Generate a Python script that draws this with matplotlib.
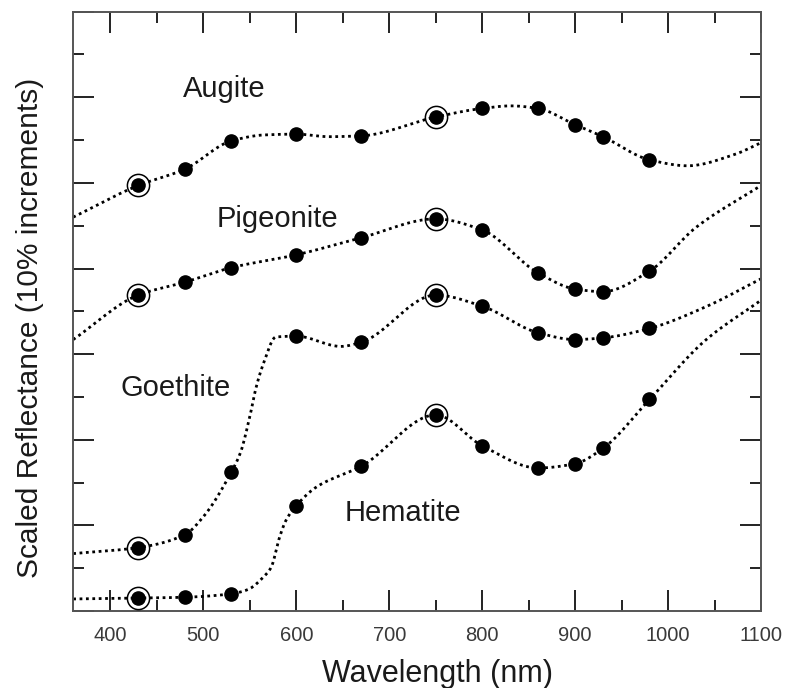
import numpy as np
import matplotlib.pyplot as plt
from matplotlib.ticker import MultipleLocator

plt.rcParams['font.family'] = ['Liberation Sans', 'DejaVu Sans']

# filter band centres (nm) and the sampled reflectance (scaled, %)
band_wl = [430, 480, 530, 600, 670, 750, 800, 860, 900, 930, 980]
augite_bands = [49.7, 51.6, 54.9, 55.7, 55.5, 57.7, 58.7, 58.7, 56.8, 55.4, 52.7]
pigeonite_bands = [36.9, 38.4, 40.1, 41.6, 43.6, 45.8, 44.5, 39.5, 37.6, 37.3, 39.7]
goethite_bands = [7.4, 8.9, 16.2, 32.1, 31.4, 36.9, 35.6, 32.5, 31.7, 31.9, 33.0]
hematite_bands = [1.5, 1.6, 2.0, 12.3, 16.9, 22.9, 19.3, 16.7, 17.2, 19.0, 24.7]

# lab spectra
augite_wl = [360, 430, 480, 530, 565, 600, 635, 670, 750, 800, 831, 860, 900, 930, 980, 1021, 1071, 1100]
augite_refl = [46.0, 49.7, 51.6, 54.9, 55.6, 55.7, 55.4, 55.5, 57.7, 58.7, 59.0, 58.7, 56.8, 55.4, 52.7, 52.0, 53.3, 54.7]

pigeonite_wl = [360, 430, 480, 530, 600, 670, 750, 800, 860, 900, 930, 980, 1030, 1100]
pigeonite_refl = [31.7, 36.9, 38.4, 40.1, 41.6, 43.6, 45.8, 44.5, 39.5, 37.6, 37.3, 39.7, 44.8, 49.7]

goethite_wl = [360, 430, 480, 500, 530, 540, 550, 557, 565, 578, 600, 648, 670, 750, 800, 860, 900, 930, 980, 1040, 1100]
goethite_refl = [6.7, 7.4, 8.9, 11.0, 16.2, 18.5, 22.7, 26.2, 29.0, 32.0, 32.1, 30.9, 31.4, 36.9, 35.6, 32.5, 31.7, 31.9, 33.0, 35.5, 38.8]

hematite_wl = [360, 430, 480, 530, 548, 565, 573, 582, 589, 600, 622, 670, 750, 800, 860, 900, 930, 980, 1040, 1100]
hematite_refl = [1.4, 1.5, 1.6, 2.0, 2.5, 4.0, 5.1, 8.6, 10.6, 12.3, 14.5, 16.9, 22.9, 19.3, 16.7, 17.2, 19.0, 24.7, 31.6, 36.3]

circled_wl = [430, 750]


def pchip(x, y, xs):
    # shape-preserving cubic through the read points, only for a smooth dotted line
    x = np.asarray(x, float)
    y = np.asarray(y, float)
    h = np.diff(x)
    d = np.diff(y) / h
    m = np.zeros_like(y)
    for k in range(1, len(x) - 1):
        if d[k - 1] * d[k] > 0:
            w1 = 2 * h[k] + h[k - 1]
            w2 = h[k] + 2 * h[k - 1]
            m[k] = (w1 + w2) / (w1 / d[k - 1] + w2 / d[k])
    m[0], m[-1] = d[0], d[-1]
    i = np.clip(np.searchsorted(x, xs) - 1, 0, len(h) - 1)
    t = (xs - x[i]) / h[i]
    return ((2 * t**3 - 3 * t**2 + 1) * y[i] + (t**3 - 2 * t**2 + t) * h[i] * m[i]
            + (-2 * t**3 + 3 * t**2) * y[i + 1] + (t**3 - t**2) * h[i] * m[i + 1])


fig = plt.figure(figsize=(7.87, 6.88), dpi=100)
ax = fig.add_axes([0.093, 0.112, 0.874, 0.871])

spectra = [(augite_wl, augite_refl, augite_bands),
           (pigeonite_wl, pigeonite_refl, pigeonite_bands),
           (goethite_wl, goethite_refl, goethite_bands),
           (hematite_wl, hematite_refl, hematite_bands)]

for wl, refl, bands in spectra:
    xs = np.linspace(wl[0], wl[-1], 600)
    ax.plot(xs, pchip(wl, refl, xs), color='black', lw=2.0,
            linestyle=(0, (1, 1.3)), zorder=2)
    ax.plot(band_wl, bands, 'o', color='black', ms=9.5, zorder=3)
    circ = [b for w, b in zip(band_wl, bands) if w in circled_wl]
    ax.plot(circled_wl, circ, 'o', mfc='none', mec='black', ms=16, mew=1.1, zorder=3)

label_kw = dict(fontsize=21, color='#1a1a1a', ha='left', va='baseline')
ax.text(478, 60.0, 'Augite', **label_kw)
ax.text(514, 44.8, 'Pigeonite', **label_kw)
ax.text(411, 25.1, 'Goethite', **label_kw)
ax.text(652, 10.5, 'Hematite', **label_kw)

ax.set_xlim(360, 1100)
ax.set_ylim(0, 70)
ax.xaxis.set_major_locator(MultipleLocator(100))
ax.xaxis.set_minor_locator(MultipleLocator(50))
ax.yaxis.set_major_locator(MultipleLocator(10))
ax.yaxis.set_minor_locator(MultipleLocator(5))
ax.tick_params(which='both', direction='in', top=True, right=True,
               color='#222222', width=1.4)
ax.tick_params(which='major', length=15, labelsize=14.5, labelcolor='#3a3a3a', pad=11)
ax.tick_params(which='minor', length=8)
ax.tick_params(axis='y', which='both', labelleft=False)
for s in ax.spines.values():
    s.set_color('#555555')
    s.set_linewidth(1.4)

ax.set_xlabel('Wavelength (nm)', fontsize=22, color='#1a1a1a')
ax.set_ylabel('Scaled Reflectance (10% increments)', fontsize=21.5, color='#1a1a1a')
ax.xaxis.set_label_coords(0.529, -0.08)
ax.yaxis.set_label_coords(-0.043, 0.472)

plt.savefig('out.png', dpi=100)
